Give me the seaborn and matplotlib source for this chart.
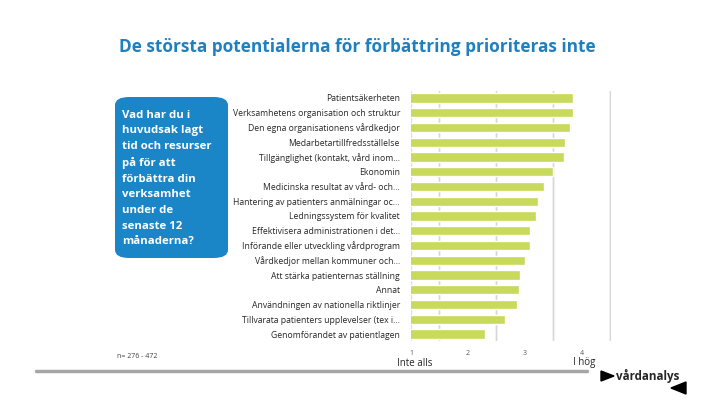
import numpy as np
import pandas as pd
import seaborn as sns
import matplotlib.pyplot as plt
from matplotlib.patches import FancyBboxPatch, Polygon

labels = [
    "Patientsäkerheten",
    "Verksamhetens organisation och struktur",
    "Den egna organisationens vårdkedjor",
    "Medarbetartillfredsställelse",
    "Tillgänglighet (kontakt, vård inom...",
    "Ekonomin",
    "Medicinska resultat av vård- och...",
    "Hantering av patienters anmälningar oc...",
    "Ledningssystem för kvalitet",
    "Effektivisera administrationen i det...",
    "Införande eller utveckling vårdprogram",
    "Vårdkedjor mellan kommuner och...",
    "Att stärka patienternas ställning",
    "Annat",
    "Användningen av nationella riktlinjer",
    "Tillvarata patienters upplevelser (tex i...",
    "Genomförandet av patientlagen",
]
values = [3.84, 3.84, 3.79, 3.70, 3.68, 3.49, 3.33, 3.23, 3.19, 3.09,
          3.09, 3.00, 2.92, 2.90, 2.86, 2.65, 2.30]
tick_vals = [1, 2, 3, 4]

sns.set_style("white")
plt.rcParams['font.family'] = ['Open Sans', 'DejaVu Sans']

df = pd.DataFrame({"label": labels, "value": values})

fig = plt.figure(figsize=(7.2, 4.05), dpi=100)
ax = fig.add_axes([411 / 720, 1 - 341.4 / 405, 199.5 / 720, 250.8 / 405])

sns.barplot(data=df, x="value", y="label", color="#c8d95b", width=0.62,
            saturation=1, ax=ax, zorder=3)
ax.set_xlim(1, 4.5)
ax.set_ylim(len(labels) - 0.5, -0.5)
ax.set_xlabel("")
ax.set_ylabel("")
ax.set_xticks(tick_vals)
ax.set_xticklabels([str(t) for t in tick_vals], fontsize=5, color="#595959")
ax.set_xticks([1.5, 2.5, 3.5, 4.5], minor=True)
ax.grid(False)
ax.grid(which="minor", axis="x", color="#d6d6d6", linewidth=1.2, zorder=0)
for tk in ax.xaxis.get_minor_ticks():
    tk.gridline.set_snap(False)
ax.tick_params(axis="x", which="both", length=0, pad=6)
ax.tick_params(axis="y", length=0, pad=8)
for t in ax.get_yticklabels():
    t.set_fontsize(6.2)
    t.set_family(['Liberation Sans Narrow', 'Open Sans', 'DejaVu Sans'])
for s in ax.spines.values():
    s.set_visible(False)
ax.axvline(1, color="#dcdcdc", linewidth=1, zorder=0)

fig.text(415 / 720, 1 - 363 / 405, "Inte alls", fontsize=7, ha="center", va="center")
fig.text(584 / 720, 1 - 363 / 405, "I hög", fontsize=7, ha="center", va="center")

# title
fig.text(357 / 720, 1 - 47 / 405,
         "De största potentialerna för förbättring prioriteras inte",
         fontsize=12.4, fontweight="bold", color="#1f80bf",
         ha="center", va="center")

# blue question box
box = FancyBboxPatch((115 / 720, 1 - 258 / 405), 113 / 720, 161 / 405,
                     boxstyle="round,pad=0,rounding_size=0.02",
                     transform=fig.transFigure, facecolor="#1a86c8",
                     edgecolor="none")
fig.patches.append(box)
fig.text(122 / 720, 1 - 109.5 / 405,
         "Vad har du i\nhuvudsak lagt\ntid och resurser\npå för att\n"
         "förbättra din\nverksamhet\nunder de\nsenaste 12\nmånaderna?",
         fontsize=8.2, fontweight="bold", color="white", ha="left", va="top",
         linespacing=1.58)

fig.text(117 / 720, 1 - 357 / 405, "n= 276 - 472", fontsize=5, color="#404040",
         ha="left", va="center")

# bottom gray rule
fig.add_artist(plt.Line2D([36 / 720, 587 / 720], [1 - 371 / 405, 1 - 371 / 405],
                          transform=fig.transFigure, color="#a6a6a6", linewidth=2.5))

# logo
def px(x, y):
    return (x / 720, 1 - y / 405)

fig.patches.append(Polygon([px(601, 371), px(601, 381), px(614, 376)],
                           closed=True, transform=fig.transFigure, color="black"))
fig.patches.append(Polygon([px(686, 382), px(686, 394), px(671, 388)],
                           closed=True, transform=fig.transFigure, color="black"))
fig.text(616 / 720, 1 - 376 / 405, "vårdanalys", fontsize=8.4, fontweight="bold",
         ha="left", va="center")

fig.savefig("out.png", dpi=100)
